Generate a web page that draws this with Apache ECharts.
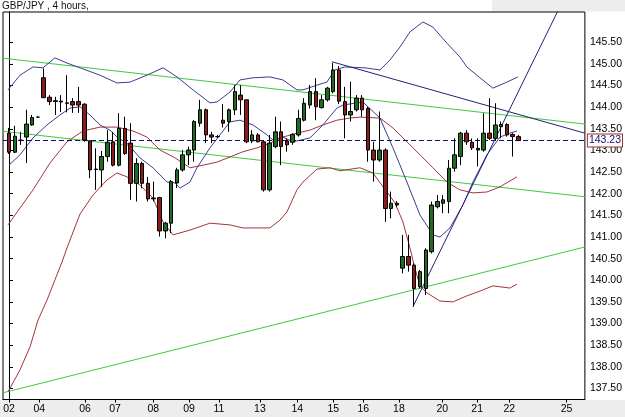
<!DOCTYPE html>
<html><head><meta charset="utf-8">
<script src="https://cdn.jsdelivr.net/npm/echarts@6/dist/echarts.min.js"></script>
<style>html,body{margin:0;padding:0;background:#fff}#c{width:625px;height:417px}</style>
</head><body><div id="c"></div>
<script>
// ---- DATA ----
const titleText = 'GBP/JPY , 4 hours,';
// 4-hour candles: [open, close, low, high]
const candles = [
 [143.40,142.96,142.92,143.52],[142.96,143.33,142.94,143.57],[143.23,143.24,143.13,143.43],[143.31,143.61,142.71,143.94],
 [143.59,143.76,143.57,143.82],[143.77,143.77,143.75,143.79],[144.68,144.22,144.21,144.90],[144.23,144.13,144.05,144.28],
 [144.13,144.15,143.82,144.24],[144.14,144.12,143.89,144.28],[144.10,144.09,143.88,144.74],[144.13,144.05,143.87,144.21],
 [144.13,144.05,143.87,144.47],[144.07,143.24,143.20,144.09],[143.22,142.55,142.36,143.24],[142.57,142.56,142.09,143.05],
 [142.55,142.86,142.16,142.99],[142.86,143.19,142.74,143.47],[143.20,142.66,142.63,143.43],[142.66,143.51,142.63,143.86],
 [143.51,142.93,142.90,143.78],[143.17,142.24,141.86,143.63],[142.24,142.70,141.82,142.82],[142.70,142.24,142.13,142.74],
 [142.24,141.88,141.82,142.39],[141.88,141.90,141.82,142.28],[141.91,141.14,141.01,141.93],[141.14,141.32,140.97,141.35],
 [141.32,142.28,141.09,142.32],[142.25,142.55,142.13,142.60],[142.55,142.90,142.51,143.01],[142.90,143.01,142.66,143.09],
 [143.01,143.67,142.74,143.70],[143.63,143.94,143.55,144.17],[143.94,143.36,143.17,143.97],[143.36,143.31,143.17,143.43],
 [143.32,143.32,143.29,143.36],[143.70,143.63,143.53,144.07],[143.67,143.94,143.43,143.97],[143.94,144.36,143.82,144.51],
 [144.28,144.17,143.82,144.51],[144.17,143.20,143.17,144.17],[143.22,143.36,143.17,143.47],[143.36,143.20,143.19,143.40],
 [143.20,142.09,142.05,143.24],[142.09,143.17,142.05,143.36],[143.09,143.43,143.05,143.78],[143.43,143.09,142.66,143.67],
 [143.22,143.13,142.97,143.28],[143.19,143.37,143.13,143.40],[143.36,143.74,143.32,143.94],[143.70,144.09,143.67,144.21],
 [144.05,144.36,143.97,144.51],[144.36,144.01,143.70,144.67],[143.99,144.17,143.97,144.28],[144.17,144.44,144.13,144.47],
 [144.36,144.86,144.32,145.02],[144.86,144.14,144.07,144.95],[144.13,143.82,143.28,144.47],[143.82,143.90,143.67,144.59],
 [143.94,144.21,143.90,144.28],[144.21,143.94,143.78,144.28],[143.97,143.01,142.74,144.01],[143.01,142.78,142.28,143.20],
 [142.78,143.01,142.74,143.90],[143.01,141.66,141.35,143.05],[141.66,141.78,141.43,142.05],[141.78,141.74,141.69,141.83],
 [140.28,140.55,140.16,141.05],[140.55,140.35,140.20,141.05],[140.35,139.81,139.39,140.39],[139.85,140.20,139.81,140.24],
 [139.81,140.70,139.66,140.74],[140.66,141.74,140.62,141.82],[141.70,141.82,141.66,141.97],[141.78,141.86,141.55,141.97],
 [141.82,142.59,141.55,142.78],[142.59,142.90,142.51,143.28],[142.86,143.40,142.66,143.43],[143.40,143.20,143.13,143.47],
 [143.19,143.06,143.01,143.28],[143.05,143.01,142.63,143.28],[143.01,143.40,142.97,143.86],[143.40,143.28,143.24,144.21],
 [143.28,143.59,143.24,144.09],[143.55,143.60,143.28,143.67],[143.60,143.36,143.32,143.63],[143.37,143.32,142.86,143.40],
 [143.32,143.23,143.22,143.36]
];
const lastPrice = 143.23;
// band lines: [bar position, price]
const blueUpper = [[-0.17,144.40],[1.90,144.74],[4.15,144.93],[5.87,144.91],[7.94,145.14],[10.02,145.02],[12.26,144.91],[15.72,144.74],[18.65,144.56],[20.90,144.58],[23.83,144.74],[26.60,144.91],[29.02,144.70],[31.78,144.40],[34.72,144.10],[35.92,144.12],[38.17,144.35],[39.90,144.63],[42.14,144.68],[45.08,144.70],[47.32,144.63],[49.74,144.40],[50.78,144.40],[53.20,144.51],[54.92,144.58],[56.30,144.86],[58.03,144.93],[61.49,144.91],[64.08,144.86],[65.80,145.09],[67.53,145.39],[69.26,145.74],[71.50,145.97],[73.23,145.85],[75.65,145.48],[77.89,145.16],[79.10,144.93],[81.35,144.68],[83.59,144.44],[86.01,144.58],[87.91,144.70]];
const blueLower = [[0,142.66],[1.90,142.90],[4.15,143.29],[6.56,143.59],[8.81,143.82],[10.54,143.98],[12.26,144.01],[13.99,143.82],[15.72,143.59],[17.44,143.47],[18.83,143.29],[20.38,143.17],[22.62,142.83],[24.87,142.60],[27.29,142.27],[28.67,142.25],[29.53,142.13],[31.26,142.27],[32.47,142.60],[34.72,143.06],[38.17,143.66],[39.90,143.70],[42.14,143.59],[44.56,143.36],[45.60,143.24],[47.32,143.31],[49.05,143.20],[51.99,143.29],[54.23,143.59],[56.65,143.98],[57.69,144.05],[61.14,144.12],[64.08,143.75],[66.32,143.06],[68.74,142.27],[70.99,141.51],[73.23,141.05],[74.44,141.00],[76.17,141.21],[78.41,141.74],[80.14,142.27],[82.56,142.90],[84.81,143.31],[86.53,143.40],[87.74,143.45]];
const redUpper = [[-0.17,141.28],[1.90,141.67],[4.15,142.09],[7.08,142.71],[10.02,143.20],[12.78,143.45],[15.72,143.54],[18.65,143.54],[21.42,143.45],[23.83,143.31],[26.08,143.01],[28.67,142.83],[31.26,142.60],[33.51,142.66],[35.92,142.73],[38.17,142.85],[40.41,142.97],[42.83,143.06],[45.08,143.17],[47.32,143.31],[49.74,143.40],[51.99,143.47],[54.23,143.59],[56.65,143.70],[58.89,143.75],[60.62,143.77],[64.08,143.75],[66.32,143.52],[68.74,143.20],[70.99,142.90],[73.23,142.60],[75.65,142.27],[77.89,142.09],[80.14,142.02],[82.56,142.04],[84.81,142.16],[87.74,142.39]];
const redLower = [[-0.17,137.42],[1.90,137.93],[3.63,138.46],[5.01,139.08],[6.56,139.54],[7.94,140.01],[9.15,140.42],[10.02,140.75],[12.26,141.53],[14.51,141.97],[16.93,142.32],[18.65,142.48],[20.38,142.39],[22.62,142.20],[24.87,141.90],[26.60,141.35],[28.32,141.05],[31.26,141.16],[34.72,141.32],[38.17,141.28],[40.41,141.21],[45.08,141.21],[46.81,141.39],[48.01,141.58],[49.74,142.09],[50.78,142.27],[53.20,142.57],[55.44,142.60],[57.17,142.53],[60.62,142.60],[62.87,142.48],[65.28,142.04],[66.67,141.79],[68.05,141.35],[69.26,140.75],[70.12,140.28],[70.99,139.87],[72.19,139.71],[74.44,139.52],[76.68,139.50],[79.10,139.64],[81.35,139.75],[83.59,139.87],[84.81,139.85],[86.53,139.82],[87.74,139.91]];
// trend lines: two end points each [bar position, price]
const greenTop = [[-1.55,145.14],[99.48,143.61]];
const greenMid = [[-1.55,143.45],[99.48,141.93]];
const greenLow = [[-1.04,137.40],[99.48,140.77]];
const blueDown = [[55.79,145.05],[99.48,143.40]];
const blueUp = [[69.78,139.39],[95.16,146.32]];
// axis ticks
const yTicks = [137.5,138,138.5,139,139.5,140,140.5,141,141.5,142,142.5,143,143.5,144,144.5,145,145.5];
const xTickPos = [0,5.23,13.13,18.31,24.92,31.09,36.27,43.35,49.79,56.01,61.19,67.36,74.84,80.88,86.41,96.32];
const xTickLabels = ['02','04','06','07','08','09','11','13','14','15','16','18','20','21','22','25'];

// ---- CHART ----
const chart = echarts.init(document.getElementById('c'), null, {renderer:'canvas'});
const FONT = 'Liberation Sans';
const line = (d, color, z) => ({type:'line', data:d, showSymbol:false, symbol:'none', silent:true, animation:false,
  lineStyle:{color:color, width:1}, z:z||2, clip:true});
chart.setOption({
  animation:false,
  backgroundColor:'#fff',
  graphic:[
    {type:'rect', z:-10, silent:true, shape:{x:0, y:400, width:625, height:17}, style:{fill:'#ededed'}},
    {type:'rect', z:-10, silent:true, shape:{x:492, y:0, width:133, height:11.5}, style:{fill:'#ededed'}}
  ],
  title:{text:titleText, left:2, top:1, padding:0, textStyle:{fontSize:10, fontWeight:'normal', color:'#111', fontFamily:FONT}},
  grid:{left:3, right:40, top:12, bottom:17.5, show:true, borderColor:'#000', borderWidth:1, backgroundColor:'#fff'},
  xAxis:{type:'value', min:-1.036, max:99.48, splitLine:{show:false},
    axisLine:{lineStyle:{color:'#000'}},
    axisTick:{customValues:xTickPos, length:3, lineStyle:{color:'#000'}},
    axisLabel:{customValues:xTickPos, margin:4, color:'#000', fontSize:10.5, fontFamily:FONT,
      formatter:(v)=>{let b=0;for(let i=1;i<xTickPos.length;i++){if(Math.abs(xTickPos[i]-v)<Math.abs(xTickPos[b]-v))b=i;}return xTickLabels[b];}}},
  yAxis:{type:'value', position:'right', min:137.245, max:146.2, scale:true, splitLine:{show:false},
    axisLine:{show:true, lineStyle:{color:'#000'}},
    axisTick:{customValues:yTicks, length:4, lineStyle:{color:'#000'}},
    axisLabel:{customValues:yTicks, margin:5, color:'#000', fontSize:10.5, fontFamily:FONT, formatter:(v)=>v.toFixed(2)}},
  series:[
    line(greenTop,'#3fc83f',1), line(greenMid,'#3fc83f',1), line(greenLow,'#3fc83f',1),
    line(redUpper,'#a3353d',2), line(redLower,'#a3353d',2),
    line(blueUpper,'#3d3d8f',2), line(blueLower,'#3d3d8f',2),
    line(blueDown,'#22227a',2), line(blueUp,'#22227a',2),
    {type:'candlestick', data:candles.map((c,i)=>[i,c[0],c[1],c[2],c[3]]), encode:{x:0,y:[1,2,3,4]},
      barWidth:4, z:5, silent:true,
      itemStyle:{color:'#1f6b22', color0:'#8a1c1c', borderColor:'#000', borderColor0:'#000', borderWidth:1},
      markLine:{symbol:'none', silent:true, animation:false,
        data:[{yAxis:lastPrice}],
        lineStyle:{type:[5,3], color:'#101070', width:1},
        label:{position:'end', distance:3, formatter:lastPrice.toFixed(2), color:'#101070', fontSize:10.5, fontFamily:FONT,
          backgroundColor:'#fff', borderColor:'#a03030', borderWidth:1, padding:[1,1,0,1]}}}
  ]
});
</script></body></html>
